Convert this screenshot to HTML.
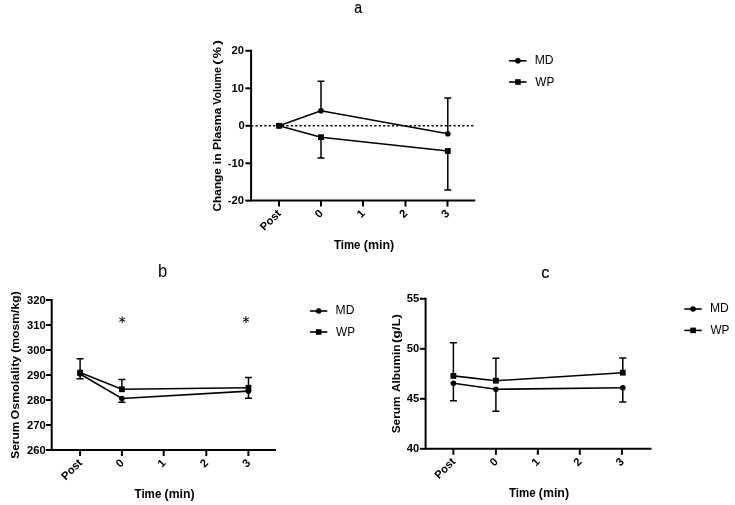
<!DOCTYPE html>
<html><head><meta charset="utf-8"><title>Figure</title>
<style>
html,body{margin:0;padding:0;background:#fff;}
body{width:735px;height:505px;overflow:hidden;}
svg{display:block;will-change:transform;font-family:"Liberation Sans", sans-serif;}
</style></head><body>
<svg width="735" height="505" viewBox="0 0 735 505">
<rect width="735" height="505" fill="#fff"/>
<path d="M251.1 49.8V200.6H475.2" fill="none" stroke="#000" stroke-width="2"/>
<line x1="245.4" y1="50.8" x2="251.1" y2="50.8" stroke="#000" stroke-width="2"/>
<text x="243.9" y="54.4" text-anchor="end" font-size="11.2" font-weight="bold">20</text>
<line x1="245.4" y1="88.3" x2="251.1" y2="88.3" stroke="#000" stroke-width="2"/>
<text x="243.9" y="91.9" text-anchor="end" font-size="11.2" font-weight="bold">10</text>
<line x1="245.4" y1="125.8" x2="251.1" y2="125.8" stroke="#000" stroke-width="2"/>
<text x="244.8" y="129.4" text-anchor="end" font-size="11.2" font-weight="bold">0</text>
<line x1="245.4" y1="163.3" x2="251.1" y2="163.3" stroke="#000" stroke-width="2"/>
<text x="243.9" y="166.9" text-anchor="end" font-size="11.2" font-weight="bold">-10</text>
<line x1="245.4" y1="200.6" x2="251.1" y2="200.6" stroke="#000" stroke-width="2"/>
<text x="243.9" y="204.2" text-anchor="end" font-size="11.2" font-weight="bold">-20</text>
<line x1="279" y1="200.6" x2="279" y2="206.6" stroke="#000" stroke-width="2"/>
<text transform="translate(281.7 214.1) rotate(-45)" text-anchor="end" font-size="11.2" font-weight="bold">Post</text>
<line x1="321" y1="200.6" x2="321" y2="206.6" stroke="#000" stroke-width="2"/>
<text transform="translate(323.7 214.1) rotate(-45)" text-anchor="end" font-size="11.2" font-weight="bold">0</text>
<line x1="363" y1="200.6" x2="363" y2="206.6" stroke="#000" stroke-width="2"/>
<text transform="translate(365.7 214.1) rotate(-45)" text-anchor="end" font-size="11.2" font-weight="bold">1</text>
<line x1="405.5" y1="200.6" x2="405.5" y2="206.6" stroke="#000" stroke-width="2"/>
<text transform="translate(408.2 214.1) rotate(-45)" text-anchor="end" font-size="11.2" font-weight="bold">2</text>
<line x1="447.5" y1="200.6" x2="447.5" y2="206.6" stroke="#000" stroke-width="2"/>
<text transform="translate(450.2 214.1) rotate(-45)" text-anchor="end" font-size="11.2" font-weight="bold">3</text>
<text transform="translate(220.9 211.47) rotate(-90)" font-size="11.8" font-weight="bold" textLength="43.38" lengthAdjust="spacingAndGlyphs">Change</text>
<text transform="translate(220.9 164.57) rotate(-90)" font-size="11.8" font-weight="bold" textLength="11.46" lengthAdjust="spacingAndGlyphs">in</text>
<text transform="translate(220.9 150.03) rotate(-90)" font-size="11.8" font-weight="bold" textLength="42.36" lengthAdjust="spacingAndGlyphs">Plasma</text>
<text transform="translate(220.9 104.8) rotate(-90)" font-size="11.8" font-weight="bold" textLength="37.88" lengthAdjust="spacingAndGlyphs">Volume</text>
<text transform="translate(220.9 64.81) rotate(-90)" font-size="11.8" font-weight="bold" textLength="5.11" lengthAdjust="spacingAndGlyphs">(</text>
<text transform="translate(220.9 58.35) rotate(-90)" font-size="11.8" font-weight="bold" textLength="11.3" lengthAdjust="spacingAndGlyphs">%</text>
<text transform="translate(220.9 44.97) rotate(-90)" font-size="11.8" font-weight="bold" textLength="5.11" lengthAdjust="spacingAndGlyphs">)</text>
<text x="333.99" y="248.7" font-size="12" font-weight="bold" textLength="26.51" lengthAdjust="spacingAndGlyphs">Time</text>
<text x="363.8" y="248.7" font-size="12" font-weight="bold" textLength="30.43" lengthAdjust="spacingAndGlyphs">(min)</text>
<text x="354.34" y="13.2" font-size="16.8" stroke="#000" stroke-width="0.2" textLength="7.81" lengthAdjust="spacingAndGlyphs">a</text>
<line x1="251.1" y1="125.8" x2="475.2" y2="125.8" stroke="#000" stroke-width="1.6" stroke-dasharray="2.2 2.2"/>
<path d="M279 125.8L321 110.8L447.8 133.7" fill="none" stroke="#000" stroke-width="1.6"/>
<circle cx="279" cy="125.8" r="2.8"/>
<path d="M321 110.8V81.2M317.5 81.2H324.5" fill="none" stroke="#000" stroke-width="1.5"/>
<circle cx="321" cy="110.8" r="2.8"/>
<path d="M447.8 133.7V98M444.3 98H451.3" fill="none" stroke="#000" stroke-width="1.5"/>
<circle cx="447.8" cy="133.7" r="2.8"/>
<path d="M279 125.8L321 137.2L447.8 151" fill="none" stroke="#000" stroke-width="1.6"/>
<rect x="276.1" y="122.9" width="5.8" height="5.8"/>
<path d="M321 137.2V158M317.5 158H324.5" fill="none" stroke="#000" stroke-width="1.5"/>
<rect x="318.1" y="134.3" width="5.8" height="5.8"/>
<path d="M447.8 151V189.9M444.3 189.9H451.3" fill="none" stroke="#000" stroke-width="1.5"/>
<rect x="444.9" y="148.1" width="5.8" height="5.8"/>
<line x1="509.1" y1="60.8" x2="526.5" y2="60.8" stroke="#000" stroke-width="1.6"/>
<circle cx="517.9" cy="60.8" r="2.8"/>
<text x="534.73" y="64.2" font-size="12.3" textLength="18.88" lengthAdjust="spacingAndGlyphs">MD</text>
<line x1="509.1" y1="82.0" x2="526.5" y2="82.0" stroke="#000" stroke-width="1.6"/>
<rect x="515.1" y="79.2" width="5.6" height="5.6"/>
<text x="535.3" y="85.5" font-size="12.3" textLength="18.95" lengthAdjust="spacingAndGlyphs">WP</text>
<path d="M51.7 299V450H276" fill="none" stroke="#000" stroke-width="2"/>
<line x1="46" y1="300" x2="51.7" y2="300" stroke="#000" stroke-width="2"/>
<text x="45.7" y="303.6" text-anchor="end" font-size="11.2" font-weight="bold">320</text>
<line x1="46" y1="325" x2="51.7" y2="325" stroke="#000" stroke-width="2"/>
<text x="45.7" y="328.6" text-anchor="end" font-size="11.2" font-weight="bold">310</text>
<line x1="46" y1="350" x2="51.7" y2="350" stroke="#000" stroke-width="2"/>
<text x="45.7" y="353.6" text-anchor="end" font-size="11.2" font-weight="bold">300</text>
<line x1="46" y1="375" x2="51.7" y2="375" stroke="#000" stroke-width="2"/>
<text x="45.7" y="378.6" text-anchor="end" font-size="11.2" font-weight="bold">290</text>
<line x1="46" y1="400" x2="51.7" y2="400" stroke="#000" stroke-width="2"/>
<text x="45.7" y="403.6" text-anchor="end" font-size="11.2" font-weight="bold">280</text>
<line x1="46" y1="425" x2="51.7" y2="425" stroke="#000" stroke-width="2"/>
<text x="45.7" y="428.6" text-anchor="end" font-size="11.2" font-weight="bold">270</text>
<line x1="46" y1="450" x2="51.7" y2="450" stroke="#000" stroke-width="2"/>
<text x="45.7" y="453.6" text-anchor="end" font-size="11.2" font-weight="bold">260</text>
<line x1="80.1" y1="450" x2="80.1" y2="456" stroke="#000" stroke-width="2"/>
<text transform="translate(82.8 463.5) rotate(-45)" text-anchor="end" font-size="11.2" font-weight="bold">Post</text>
<line x1="121.9" y1="450" x2="121.9" y2="456" stroke="#000" stroke-width="2"/>
<text transform="translate(124.6 463.5) rotate(-45)" text-anchor="end" font-size="11.2" font-weight="bold">0</text>
<line x1="163.7" y1="450" x2="163.7" y2="456" stroke="#000" stroke-width="2"/>
<text transform="translate(166.4 463.5) rotate(-45)" text-anchor="end" font-size="11.2" font-weight="bold">1</text>
<line x1="206.3" y1="450" x2="206.3" y2="456" stroke="#000" stroke-width="2"/>
<text transform="translate(209 463.5) rotate(-45)" text-anchor="end" font-size="11.2" font-weight="bold">2</text>
<line x1="248.4" y1="450" x2="248.4" y2="456" stroke="#000" stroke-width="2"/>
<text transform="translate(251.1 463.5) rotate(-45)" text-anchor="end" font-size="11.2" font-weight="bold">3</text>
<text transform="translate(19.2 458.74) rotate(-90)" font-size="11.8" font-weight="bold" textLength="37.14" lengthAdjust="spacingAndGlyphs">Serum</text>
<text transform="translate(19.2 419.4) rotate(-90)" font-size="11.8" font-weight="bold" textLength="63.65" lengthAdjust="spacingAndGlyphs">Osmolality</text>
<text transform="translate(19.2 352.79) rotate(-90)" font-size="11.8" font-weight="bold" textLength="61.51" lengthAdjust="spacingAndGlyphs">(mosm/kg)</text>
<text x="134.58" y="497.5" font-size="12" font-weight="bold" textLength="26.72" lengthAdjust="spacingAndGlyphs">Time</text>
<text x="164.61" y="497.5" font-size="12" font-weight="bold" textLength="30.02" lengthAdjust="spacingAndGlyphs">(min)</text>
<text x="157.91" y="277.3" font-size="18" textLength="9.19" lengthAdjust="spacingAndGlyphs">b</text>
<path d="M80.1 374L121.9 398.5L248.5 391.1" fill="none" stroke="#000" stroke-width="1.6"/>
<path d="M80.1 374V378.8M76.6 378.8H83.6" fill="none" stroke="#000" stroke-width="1.5"/>
<circle cx="80.1" cy="374" r="2.8"/>
<path d="M121.9 398.5V402.3M118.4 402.3H125.4" fill="none" stroke="#000" stroke-width="1.5"/>
<circle cx="121.9" cy="398.5" r="2.8"/>
<path d="M248.5 391.1V398.2M245 398.2H252" fill="none" stroke="#000" stroke-width="1.5"/>
<circle cx="248.5" cy="391.1" r="2.8"/>
<path d="M80.1 372.6L121.9 389.3L248.5 387.8" fill="none" stroke="#000" stroke-width="1.6"/>
<path d="M80.1 372.6V358.7M76.6 358.7H83.6" fill="none" stroke="#000" stroke-width="1.5"/>
<rect x="77.2" y="369.7" width="5.8" height="5.8"/>
<path d="M121.9 389.3V379.4M118.4 379.4H125.4" fill="none" stroke="#000" stroke-width="1.5"/>
<rect x="119" y="386.4" width="5.8" height="5.8"/>
<path d="M248.5 387.8V377.6M245 377.6H252" fill="none" stroke="#000" stroke-width="1.5"/>
<rect x="245.6" y="384.9" width="5.8" height="5.8"/>
<line x1="309.9" y1="311" x2="327.3" y2="311" stroke="#000" stroke-width="1.6"/>
<circle cx="318.7" cy="311" r="2.8"/>
<text x="335.53" y="314.4" font-size="12.3" textLength="18.88" lengthAdjust="spacingAndGlyphs">MD</text>
<line x1="309.9" y1="332" x2="327.3" y2="332" stroke="#000" stroke-width="1.6"/>
<rect x="315.9" y="329.2" width="5.6" height="5.6"/>
<text x="336.1" y="335.5" font-size="12.3" textLength="18.95" lengthAdjust="spacingAndGlyphs">WP</text>
<path d="M122.2 316.3L122.2 323.1M119.26 318L125.14 321.4M125.14 318L119.26 321.4" stroke="#000" stroke-width="1.0" fill="none"/>
<path d="M246 316.2L246 323M243.06 317.9L248.94 321.3M248.94 317.9L243.06 321.3" stroke="#000" stroke-width="1.0" fill="none"/>
<path d="M425.6 297.8V448.8H651.5" fill="none" stroke="#000" stroke-width="2"/>
<line x1="419.9" y1="298.8" x2="425.6" y2="298.8" stroke="#000" stroke-width="2"/>
<text x="419.2" y="302.4" text-anchor="end" font-size="11.2" font-weight="bold">55</text>
<line x1="419.9" y1="348.8" x2="425.6" y2="348.8" stroke="#000" stroke-width="2"/>
<text x="419.2" y="352.4" text-anchor="end" font-size="11.2" font-weight="bold">50</text>
<line x1="419.9" y1="398.8" x2="425.6" y2="398.8" stroke="#000" stroke-width="2"/>
<text x="419.2" y="402.4" text-anchor="end" font-size="11.2" font-weight="bold">45</text>
<line x1="419.9" y1="448.8" x2="425.6" y2="448.8" stroke="#000" stroke-width="2"/>
<text x="419.2" y="452.4" text-anchor="end" font-size="11.2" font-weight="bold">40</text>
<line x1="453.4" y1="448.8" x2="453.4" y2="454.8" stroke="#000" stroke-width="2"/>
<text transform="translate(456.1 462.3) rotate(-45)" text-anchor="end" font-size="11.2" font-weight="bold">Post</text>
<line x1="495.9" y1="448.8" x2="495.9" y2="454.8" stroke="#000" stroke-width="2"/>
<text transform="translate(498.6 462.3) rotate(-45)" text-anchor="end" font-size="11.2" font-weight="bold">0</text>
<line x1="537.8" y1="448.8" x2="537.8" y2="454.8" stroke="#000" stroke-width="2"/>
<text transform="translate(540.5 462.3) rotate(-45)" text-anchor="end" font-size="11.2" font-weight="bold">1</text>
<line x1="579.8" y1="448.8" x2="579.8" y2="454.8" stroke="#000" stroke-width="2"/>
<text transform="translate(582.5 462.3) rotate(-45)" text-anchor="end" font-size="11.2" font-weight="bold">2</text>
<line x1="622" y1="448.8" x2="622" y2="454.8" stroke="#000" stroke-width="2"/>
<text transform="translate(624.7 462.3) rotate(-45)" text-anchor="end" font-size="11.2" font-weight="bold">3</text>
<text transform="translate(400.1 433.34) rotate(-90)" font-size="11.8" font-weight="bold" textLength="36.84" lengthAdjust="spacingAndGlyphs">Serum</text>
<text transform="translate(400.1 392.04) rotate(-90)" font-size="11.8" font-weight="bold" textLength="47.56" lengthAdjust="spacingAndGlyphs">Albumin</text>
<text transform="translate(400.1 342.94) rotate(-90)" font-size="11.8" font-weight="bold" textLength="29.01" lengthAdjust="spacingAndGlyphs">(g/L)</text>
<text x="508.98" y="497.2" font-size="12" font-weight="bold" textLength="26.72" lengthAdjust="spacingAndGlyphs">Time</text>
<text x="538.81" y="497.2" font-size="12" font-weight="bold" textLength="30.23" lengthAdjust="spacingAndGlyphs">(min)</text>
<text x="541.35" y="277.8" font-size="16.8" stroke="#000" stroke-width="0.2" textLength="8.18" lengthAdjust="spacingAndGlyphs">c</text>
<path d="M453.4 383.3L495.9 389.3L622.8 387.7" fill="none" stroke="#000" stroke-width="1.6"/>
<path d="M453.4 383.3V400.7M449.9 400.7H456.9" fill="none" stroke="#000" stroke-width="1.5"/>
<circle cx="453.4" cy="383.3" r="2.8"/>
<path d="M495.9 389.3V411.3M492.4 411.3H499.4" fill="none" stroke="#000" stroke-width="1.5"/>
<circle cx="495.9" cy="389.3" r="2.8"/>
<path d="M622.8 387.7V402M619.3 402H626.3" fill="none" stroke="#000" stroke-width="1.5"/>
<circle cx="622.8" cy="387.7" r="2.8"/>
<path d="M453.4 375.9L495.9 380.7L622.8 372.7" fill="none" stroke="#000" stroke-width="1.6"/>
<path d="M453.4 375.9V342.7M449.9 342.7H456.9" fill="none" stroke="#000" stroke-width="1.5"/>
<rect x="450.5" y="373" width="5.8" height="5.8"/>
<path d="M495.9 380.7V358.2M492.4 358.2H499.4" fill="none" stroke="#000" stroke-width="1.5"/>
<rect x="493" y="377.8" width="5.8" height="5.8"/>
<path d="M622.8 372.7V358M619.3 358H626.3" fill="none" stroke="#000" stroke-width="1.5"/>
<rect x="619.9" y="369.8" width="5.8" height="5.8"/>
<line x1="684.3" y1="309" x2="701.7" y2="309" stroke="#000" stroke-width="1.6"/>
<circle cx="693.1" cy="309" r="2.8"/>
<text x="709.93" y="312.4" font-size="12.3" textLength="18.88" lengthAdjust="spacingAndGlyphs">MD</text>
<line x1="684.3" y1="330.4" x2="701.7" y2="330.4" stroke="#000" stroke-width="1.6"/>
<rect x="690.3" y="327.6" width="5.6" height="5.6"/>
<text x="710.5" y="333.9" font-size="12.3" textLength="18.95" lengthAdjust="spacingAndGlyphs">WP</text>
</svg>
</body></html>
